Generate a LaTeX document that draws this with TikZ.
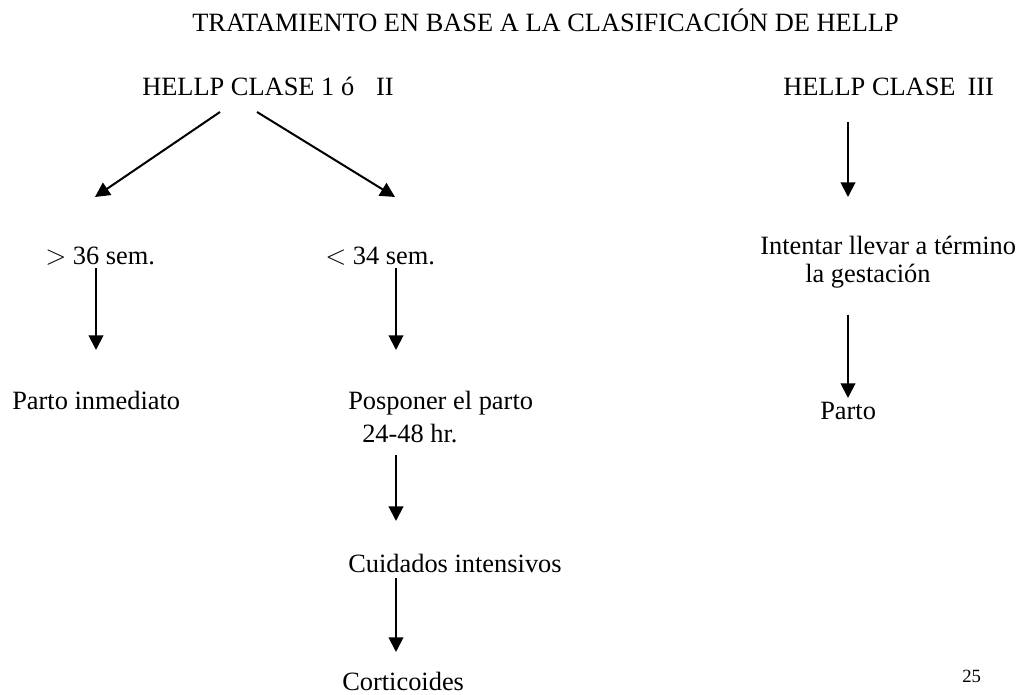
\documentclass[tikz,border=0pt]{standalone}
\usepackage{fontspec}
\setmainfont{Liberation Serif}
\usetikzlibrary{arrows.meta}
\begin{document}
\begin{tikzpicture}[x=0.75pt,y=-0.75pt,
  txt/.style={anchor=base west,inner sep=0pt,font=\fontsize{19.8}{24}\selectfont},
  arr/.style={line width=1.5pt,-{Triangle[length=11pt,width=11pt]}}]
\useasboundingbox (0,0) rectangle (1018,695);
\node[txt] (title) at (192,32) {TRATAMIENTO EN BASE A LA CLASIFICACIÓN DE HELLP};
\node[txt] (c12) at (142,96) {HELLP CLASE 1 ó\hspace{16.5pt}II};
\node[txt] (c3) at (783,96) {HELLP CLASE\hspace{9pt}III};
\node[txt] (g36) at (45,265) {$>$ 36 sem.};
\node[txt] (l34) at (325,265) {$<$ 34 sem.};
\node[txt] (int1) at (760,255) {Intentar llevar a término};
\node[txt] (int2) at (805,283) {la gestación};
\node[txt] (pinm) at (12,410) {Parto inmediato};
\node[txt] (pos1) at (348,410) {Posponer el parto};
\node[txt] (pos2) at (362,442) {24-48 hr.};
\node[txt] (parto) at (820,420) {Parto};
\node[txt] (cui) at (348,572) {Cuidados intensivos};
\node[txt] (cort) at (342,690) {Corticoides};
\node[anchor=base west,inner sep=0pt,font=\fontsize{14}{16}\selectfont] (pg) at (962,682) {25};
\coordinate (a1s) at (220,112); \coordinate (a1e) at (95,197);
\coordinate (a2s) at (257,112); \coordinate (a2e) at (395,197);
\coordinate (a3s) at (848,122); \coordinate (a3e) at (848,197);
\coordinate (a4s) at (96,268); \coordinate (a4e) at (96,350);
\coordinate (a5s) at (396,268); \coordinate (a5e) at (396,350);
\coordinate (a6s) at (848,315); \coordinate (a6e) at (848,398);
\coordinate (a7s) at (396,455); \coordinate (a7e) at (396,521);
\coordinate (a8s) at (396,578); \coordinate (a8e) at (396,652);
\draw[arr] (a1s) -- (a1e);
\draw[arr] (a2s) -- (a2e);
\draw[arr] (a3s) -- (a3e);
\draw[arr] (a4s) -- (a4e);
\draw[arr] (a5s) -- (a5e);
\draw[arr] (a6s) -- (a6e);
\draw[arr] (a7s) -- (a7e);
\draw[arr] (a8s) -- (a8e);
\end{tikzpicture}
\end{document}
